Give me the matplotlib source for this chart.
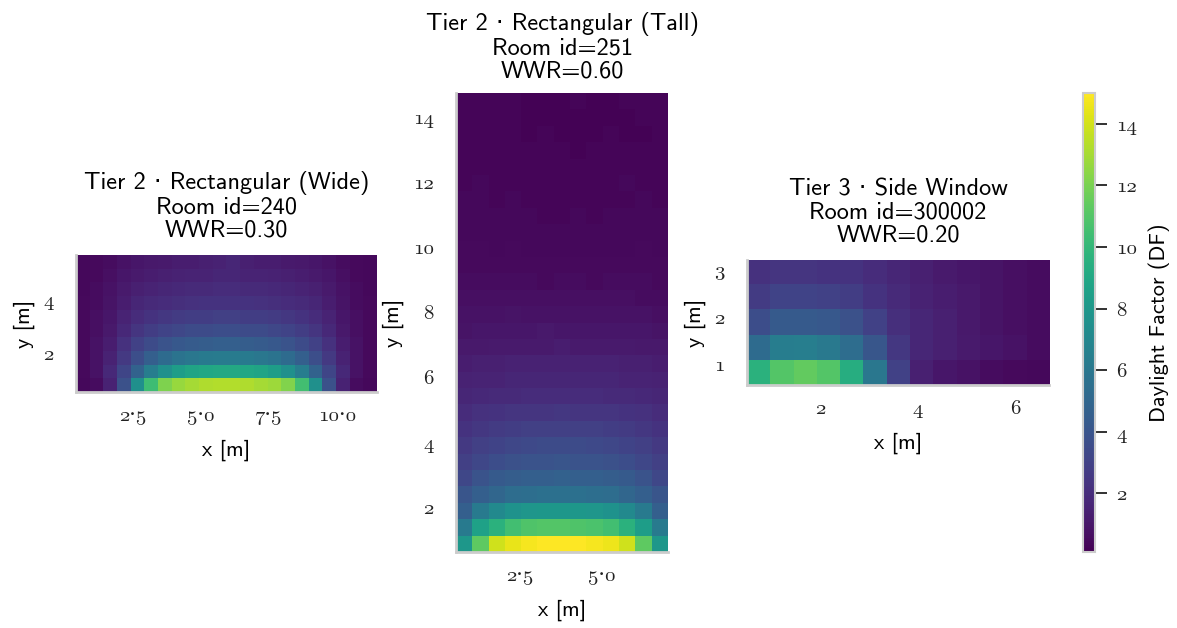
import numpy as np
import matplotlib
matplotlib.use('Agg')
import matplotlib.pyplot as plt

# Daylight factor grids, rows listed from the window side (bottom) upwards
df_wide = [
    [0.4, 0.6, 1.5, 3.8, 7.5, 10.4, 12.1, 12.7, 13.0, 13.2, 13.3, 13.3, 13.2, 13.0, 12.8, 12.2, 10.5, 7.6, 3.8, 1.5, 0.6, 0.4],
    [0.5, 0.8, 1.8, 3.2, 4.8, 6.4, 7.6, 8.4, 8.8, 9.0, 9.1, 9.1, 9.0, 8.8, 8.4, 7.6, 6.4, 4.8, 3.2, 1.8, 0.8, 0.5],
    [0.5, 0.8, 1.5, 2.6, 3.7, 4.6, 5.3, 5.8, 6.0, 6.2, 6.3, 6.3, 6.2, 6.0, 5.8, 5.3, 4.6, 3.7, 2.6, 1.5, 0.8, 0.5],
    [0.5, 0.8, 1.3, 2.2, 3.0, 3.5, 3.9, 4.2, 4.4, 4.5, 4.6, 4.6, 4.5, 4.4, 4.2, 3.9, 3.5, 3.0, 2.2, 1.3, 0.8, 0.5],
    [0.5, 0.7, 1.1, 1.8, 2.4, 2.8, 3.1, 3.3, 3.5, 3.5, 3.6, 3.6, 3.5, 3.5, 3.3, 3.1, 2.8, 2.4, 1.8, 1.1, 0.7, 0.5],
    [0.5, 0.7, 1.0, 1.6, 2.0, 2.3, 2.5, 2.7, 2.8, 2.8, 2.9, 2.9, 2.8, 2.8, 2.7, 2.5, 2.3, 2.0, 1.6, 1.0, 0.7, 0.5],
    [0.5, 0.6, 0.9, 1.3, 1.7, 1.9, 2.0, 2.1, 2.2, 2.3, 2.3, 2.3, 2.3, 2.2, 2.1, 2.0, 1.9, 1.7, 1.3, 0.9, 0.6, 0.5],
    [0.4, 0.6, 0.8, 1.2, 1.4, 1.6, 1.7, 1.8, 1.9, 1.9, 2.0, 2.0, 1.9, 1.9, 1.8, 1.7, 1.6, 1.4, 1.2, 0.8, 0.6, 0.4],
    [0.4, 0.5, 0.7, 1.0, 1.2, 1.3, 1.4, 1.5, 1.6, 1.6, 1.7, 1.7, 1.6, 1.6, 1.5, 1.4, 1.3, 1.2, 1.0, 0.7, 0.5, 0.4],
    [0.4, 0.5, 0.6, 0.8, 1.0, 1.1, 1.2, 1.3, 1.3, 1.4, 1.5, 1.7, 1.4, 1.3, 1.3, 1.2, 1.1, 1.0, 0.8, 0.6, 0.5, 0.4],
]

df_tall = [
    [8.0, 11.3, 13.9, 14.5, 14.8, 15.0, 15.0, 15.0, 14.8, 14.6, 13.9, 11.3, 8.0],
    [6.2, 8.6, 9.6, 10.5, 10.9, 11.0, 11.0, 10.9, 10.8, 10.5, 9.6, 8.4, 6.2],
    [4.6, 6.2, 7.2, 7.7, 7.9, 8.0, 8.0, 8.0, 7.9, 7.7, 7.2, 6.2, 4.6],
    [4.0, 4.6, 5.0, 5.4, 5.5, 5.6, 5.6, 5.6, 5.5, 5.4, 5.0, 4.6, 4.0],
    [3.3, 3.9, 4.3, 4.5, 4.6, 4.6, 4.7, 4.6, 4.6, 4.5, 4.3, 3.9, 3.3],
    [2.9, 3.3, 3.6, 3.8, 3.9, 3.9, 4.0, 3.9, 3.9, 3.8, 3.6, 3.3, 2.9],
    [2.6, 2.9, 3.1, 3.3, 3.4, 3.5, 3.5, 3.5, 3.4, 3.3, 3.1, 2.9, 2.6],
    [2.3, 2.5, 2.7, 2.8, 2.9, 2.9, 2.9, 2.9, 2.9, 2.8, 2.7, 2.5, 2.3],
    [2.0, 2.2, 2.3, 2.4, 2.4, 2.4, 2.5, 2.4, 2.4, 2.4, 2.3, 2.2, 2.0],
    [1.7, 1.8, 1.9, 1.9, 2.0, 2.0, 2.0, 2.0, 2.0, 1.9, 1.9, 1.8, 1.7],
    [1.5, 1.6, 1.6, 1.7, 1.7, 1.7, 1.7, 1.7, 1.7, 1.7, 1.6, 1.6, 1.5],
    [1.3, 1.4, 1.4, 1.5, 1.5, 1.5, 1.5, 1.5, 1.5, 1.5, 1.4, 1.4, 1.3],
    [1.1, 1.1, 1.2, 1.2, 1.2, 1.2, 1.3, 1.2, 1.2, 1.2, 1.2, 1.1, 1.1],
    [0.9, 1.0, 1.0, 1.0, 1.0, 1.1, 1.0, 1.0, 1.0, 1.0, 1.0, 1.0, 0.9],
    [0.8, 0.8, 0.8, 0.9, 0.8, 0.8, 0.8, 0.8, 0.8, 0.8, 0.8, 0.8, 0.7],
    [0.7, 0.7, 0.7, 0.7, 0.7, 0.7, 0.7, 0.7, 0.7, 0.7, 0.7, 0.6, 0.6],
    [0.6, 0.6, 0.6, 0.6, 0.6, 0.5, 0.6, 0.6, 0.5, 0.6, 0.6, 0.6, 0.5],
    [0.5, 0.5, 0.5, 0.5, 0.5, 0.5, 0.5, 0.5, 0.5, 0.5, 0.5, 0.5, 0.5],
    [0.5, 0.5, 0.4, 0.5, 0.4, 0.4, 0.4, 0.4, 0.4, 0.4, 0.4, 0.5, 0.4],
    [0.4, 0.4, 0.4, 0.4, 0.4, 0.4, 0.4, 0.4, 0.4, 0.4, 0.4, 0.4, 0.4],
    [0.4, 0.4, 0.4, 0.4, 0.4, 0.3, 0.3, 0.4, 0.3, 0.4, 0.4, 0.4, 0.4],
    [0.4, 0.4, 0.3, 0.4, 0.3, 0.3, 0.3, 0.3, 0.3, 0.3, 0.3, 0.4, 0.3],
    [0.3, 0.4, 0.3, 0.3, 0.3, 0.3, 0.3, 0.3, 0.3, 0.3, 0.4, 0.3, 0.3],
    [0.3, 0.3, 0.3, 0.3, 0.3, 0.3, 0.3, 0.3, 0.3, 0.3, 0.3, 0.3, 0.3],
    [0.3, 0.3, 0.3, 0.3, 0.3, 0.3, 0.3, 0.2, 0.3, 0.3, 0.3, 0.3, 0.3],
    [0.3, 0.3, 0.3, 0.3, 0.2, 0.3, 0.2, 0.2, 0.2, 0.3, 0.2, 0.2, 0.3],
    [0.3, 0.3, 0.3, 0.3, 0.2, 0.2, 0.2, 0.2, 0.2, 0.2, 0.2, 0.3, 0.3],
    [0.3, 0.3, 0.3, 0.3, 0.2, 0.2, 0.2, 0.3, 0.2, 0.2, 0.3, 0.3, 0.3],
]

df_side = [
    [9.6, 11.0, 11.4, 11.0, 9.4, 6.0, 3.0, 1.4, 1.0, 0.8, 0.6, 0.5, 0.4],
    [5.3, 6.4, 6.5, 6.1, 5.4, 4.1, 2.5, 1.7, 1.4, 1.2, 1.0, 0.8, 0.6],
    [3.6, 4.3, 4.3, 4.2, 3.8, 3.0, 2.1, 1.7, 1.4, 1.1, 0.9, 0.7, 0.6],
    [2.7, 3.1, 3.1, 3.0, 2.8, 2.3, 1.9, 1.5, 1.3, 1.1, 0.9, 0.7, 0.6],
    [2.2, 2.4, 2.4, 2.3, 2.3, 2.0, 1.7, 1.4, 1.2, 1.0, 0.9, 0.7, 0.6],
]

titles = [
    'Tier 2 · Rectangular (Wide)\nRoom id=240\nWWR=0.30',
    'Tier 2 · Rectangular (Tall)\nRoom id=251\nWWR=0.60',
    'Tier 3 · Side Window\nRoom id=300002\nWWR=0.20',
]
x_ticks = [[2.5, 5.0, 7.5, 10.0], [2.5, 5.0], [2, 4, 6]]
y_ticks = [[2, 4], [2, 4, 6, 8, 10, 12, 14], [1, 2, 3]]
cbar_ticks = [2, 4, 6, 8, 10, 12, 14]

VMIN, VMAX = 0.1, 15.0
SANS = ['cmss10', 'DejaVu Sans']
TICKFONT = ['cmmi10', 'DejaVu Serif']


def tick_text(v):
    # old-style figures, decimal point drawn as a raised dot
    return str(v).replace('.', '\u00b7')


W, H = 1177, 628
fig = plt.figure(figsize=(W / 100, H / 100), dpi=100)


def px_box(x0, y0, x1, y1):
    return [x0 / W, 1 - y1 / H, (x1 - x0) / W, (y1 - y0) / H]


boxes = [px_box(76, 255, 377, 392), px_box(456, 93, 668, 552), px_box(747, 260, 1049, 385)]
extents = [(0.43, 11.47, 0.53, 5.63), (0.54, 7.03, 0.61, 14.74), (0.49, 6.70, 0.56, 3.19)]
title_pads = [13, 11, 13]
grids = [df_wide, df_tall, df_side]

im = None
for i in range(3):
    ax = fig.add_axes(boxes[i])
    im = ax.imshow(np.array(grids[i]), origin='lower', extent=extents[i], aspect='auto',
                   cmap='viridis', vmin=VMIN, vmax=VMAX, interpolation='nearest')
    ax.set_title(titles[i], family=SANS, fontsize=17.5, linespacing=1.08, pad=title_pads[i])
    ax.set_xticks(x_ticks[i])
    ax.set_yticks(y_ticks[i])
    ax.set_xticklabels([tick_text(v) for v in x_ticks[i]])
    ax.set_yticklabels([tick_text(v) for v in y_ticks[i]])
    for lab in ax.get_xticklabels() + ax.get_yticklabels():
        lab.set_family(TICKFONT)
        lab.set_fontsize(15)
    ax.tick_params(length=0, colors='#222222')
    ax.tick_params(axis='x', pad=11)
    ax.tick_params(axis='y', pad=16)
    ax.set_xlabel('x [m]', family=SANS, fontsize=16, labelpad=10)
    ax.set_ylabel('y [m]', family=SANS, fontsize=16, labelpad=6)
    for side in ['top', 'right']:
        ax.spines[side].set_visible(False)
    for side in ['left', 'bottom']:
        ax.spines[side].set_color('#cccccc')
        ax.spines[side].set_linewidth(2)

cax = fig.add_axes(px_box(1083, 93, 1095, 552))
cb = fig.colorbar(im, cax=cax)
cb.set_ticks(cbar_ticks)
cb.set_ticklabels([tick_text(v) for v in cbar_ticks])
for lab in cax.get_yticklabels():
    lab.set_family(TICKFONT)
    lab.set_fontsize(15)
cax.yaxis.set_tick_params(which='major', direction='out', length=8.5, width=1.3,
                          pad=7, color='#222222', labelcolor='#222222')
cb.outline.set_edgecolor('#cccccc')
cb.outline.set_linewidth(1.5)
cb.set_label('Daylight Factor (DF)', family=SANS, fontsize=16, labelpad=8)

fig.savefig('out.png', dpi=100)
